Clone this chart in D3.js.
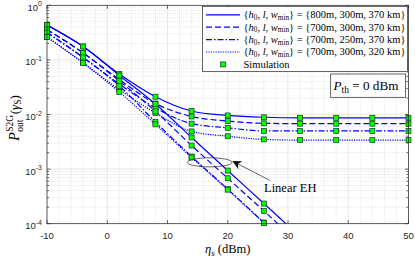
<!DOCTYPE html>
<html lang="en">
<head>
<meta charset="UTF-8">
<title>S2G outage probability</title>
<script src="https://d3js.org/d3.v7.min.js"></script>
<style>
  body { margin: 0; background: #fff; }
  svg { display: block; }
</style>
</head>
<body>
<div id="chart"></div>
<script>
// transmit SNR points (dBm), shared by curves and simulation markers
const etaS = [-10, -4, 2, 8, 14, 20, 26, 32, 38, 44, 50];

// nonlinear EH, one array per {h0, l, wmin} setting
const nl1 = [0.436, 0.176, 0.0552, 0.0212, 0.0116, 0.0096, 0.0089, 0.0087, 0.0087, 0.0087, 0.0087];
const nl2 = [0.360, 0.134, 0.0438, 0.0159, 0.0092, 0.0076, 0.0069, 0.0068, 0.0068, 0.0068, 0.0068];
const nl3 = [0.318, 0.111, 0.0362, 0.0132, 0.0068, 0.0057, 0.0050, 0.0050, 0.0050, 0.0050, 0.0050];
const nl4 = [0.263, 0.088, 0.0287, 0.0107, 0.0049, 0.0040, 0.0035, 0.0034, 0.0034, 0.0034, 0.0034];

// linear EH, goes below 1e-4 after ~30 dBm
const etaLin = [-10, -4, 2, 8, 14, 20, 26, 32];
const lin1 = [0.436, 0.176, 0.0518, 0.0156, 0.0038, 0.00094, 0.000234, 0.000058];
const lin2 = [0.360, 0.134, 0.0411, 0.0114, 0.0027, 0.00068, 0.000171, 0.0000425];
const lin3 = [0.318, 0.111, 0.0333, 0.0073, 0.0017, 0.00043, 0.000105, 0.000026];
const lin4 = [0.263, 0.088, 0.0258, 0.0066, 0.00163, 0.00042, 0.000103, 0.0000256];

const legendValues = ["{800m, 300m, 370 km}", "{700m, 300m, 370 km}", "{700m, 250m, 370 km}", "{700m, 300m, 320 km}"];
const xTicks = [-10, 0, 10, 20, 30, 40, 50];
const yExps = [-4, -3, -2, -1, 0];

const dashes = [null, "6,3", "6,2,1.5,2", "1.2,1.2"];
const blue = "#0000ff";
const axisColor = "#262626";
const serif = "'Liberation Serif', 'DejaVu Serif', serif";
const sans = "'Liberation Sans', Arial, sans-serif";

const W = 415, H = 258;
const pL = 47, pR = 408.5, pT = 5.3, pB = 223.7;

const svg = d3.select("#chart").append("svg")
    .attr("width", W).attr("height", H);

const x = d3.scaleLinear().domain([-10, 50]).range([pL, pR]);
const y = d3.scaleLog().domain([1e-4, 1]).range([pB, pT]);

// grid
const grid = svg.append("g");
const minorX = d3.range(-10, 51, 2).filter(v => v % 10 !== 0);
const minorY = [];
yExps.slice(0, -1).forEach(e => { for (let k = 2; k <= 9; k++) minorY.push(k * Math.pow(10, e)); });

grid.selectAll(".mx").data(minorX).join("line")
    .attr("x1", d => x(d)).attr("x2", d => x(d)).attr("y1", pT).attr("y2", pB)
    .attr("stroke", "#c8c8c8").attr("stroke-width", 0.5).attr("stroke-dasharray", "1,1.2");
grid.selectAll(".my").data(minorY).join("line")
    .attr("x1", pL).attr("x2", pR).attr("y1", d => y(d)).attr("y2", d => y(d))
    .attr("stroke", "#c8c8c8").attr("stroke-width", 0.5).attr("stroke-dasharray", "1,1.2");
grid.selectAll(".gx").data(xTicks).join("line")
    .attr("x1", d => x(d)).attr("x2", d => x(d)).attr("y1", pT).attr("y2", pB)
    .attr("stroke", "#dedede").attr("stroke-width", 0.7);
grid.selectAll(".gy").data(yExps).join("line")
    .attr("x1", pL).attr("x2", pR).attr("y1", d => y(Math.pow(10, d))).attr("y2", d => y(Math.pow(10, d)))
    .attr("stroke", "#dedede").attr("stroke-width", 0.7);

// curves
svg.append("clipPath").attr("id", "clip").append("rect")
    .attr("x", pL).attr("y", pT).attr("width", pR - pL).attr("height", pB - pT);

const line = d3.line()
    .x(d => x(d[0])).y(d => y(d[1]))
    .curve(d3.curveMonotoneX);

const nlSeries = [nl1, nl2, nl3, nl4];
const linSeries = [lin1, lin2, lin3, lin4];

const curves = svg.append("g").attr("clip-path", "url(#clip)");
nlSeries.forEach((s, i) => {
    curves.append("path")
        .datum(etaS.map((e, j) => [e, s[j]]))
        .attr("d", line).attr("fill", "none")
        .attr("stroke", blue).attr("stroke-width", 1.2)
        .attr("stroke-dasharray", dashes[i]);
});
linSeries.forEach((s, i) => {
    curves.append("path")
        .datum(etaLin.map((e, j) => [e, s[j]]))
        .attr("d", line).attr("fill", "none")
        .attr("stroke", blue).attr("stroke-width", 1.2)
        .attr("stroke-dasharray", dashes[i]);
});

// simulation markers
let pts = [];
nlSeries.forEach(s => etaS.forEach((e, j) => pts.push([e, s[j]])));
linSeries.forEach(s => etaLin.forEach((e, j) => pts.push([e, s[j]])));
pts = pts.filter(d => d[1] >= 1e-4);

const ms = 5;
svg.append("g").selectAll("rect").data(pts).join("rect")
    .attr("x", d => x(d[0]) - ms / 2).attr("y", d => y(d[1]) - ms / 2)
    .attr("width", ms).attr("height", ms)
    .attr("fill", "#00ff00").attr("stroke", "#1a3a1a").attr("stroke-width", 0.7);

// axes box + ticks
const ax = svg.append("g").attr("stroke", axisColor).attr("stroke-width", 0.7);
ax.append("rect").attr("x", pL).attr("y", pT).attr("width", pR - pL).attr("height", pB - pT)
    .attr("fill", "none");
xTicks.forEach(t => {
    ax.append("line").attr("x1", x(t)).attr("x2", x(t)).attr("y1", pB).attr("y2", pB - 3.5);
    ax.append("line").attr("x1", x(t)).attr("x2", x(t)).attr("y1", pT).attr("y2", pT + 3.5);
});
yExps.forEach(e => {
    const yy = y(Math.pow(10, e));
    ax.append("line").attr("x1", pL).attr("x2", pL + 3.5).attr("y1", yy).attr("y2", yy);
    ax.append("line").attr("x1", pR).attr("x2", pR - 3.5).attr("y1", yy).attr("y2", yy);
});
minorY.forEach(v => {
    const yy = y(v);
    ax.append("line").attr("x1", pL).attr("x2", pL + 2).attr("y1", yy).attr("y2", yy);
    ax.append("line").attr("x1", pR).attr("x2", pR - 2).attr("y1", yy).attr("y2", yy);
});

// tick labels
svg.append("g").selectAll("text").data(xTicks).join("text")
    .attr("x", d => x(d)).attr("y", 239)
    .attr("text-anchor", "middle").attr("font-family", sans).attr("font-size", 9.5)
    .attr("fill", axisColor).text(d => d);

const yl = svg.append("g").selectAll("text").data(yExps).join("text")
    .attr("x", 42).attr("y", d => y(Math.pow(10, d)) + 5.5)
    .attr("text-anchor", "end").attr("font-family", sans).attr("font-size", 9.5)
    .attr("fill", axisColor);
yl.append("tspan").text("10");
yl.append("tspan").attr("dy", -4.5).attr("font-size", 7).text(d => d);

// x label
const xl = svg.append("text").attr("x", (pL + pR) / 2).attr("y", 253)
    .attr("text-anchor", "middle").attr("font-family", serif).attr("font-size", 12.5);
xl.append("tspan").attr("font-style", "italic").text("η");
xl.append("tspan").attr("font-style", "italic").attr("font-size", 9).attr("dy", 2.5).text("s");
xl.append("tspan").attr("dy", -2.5).text(" (dBm)");

// y label, built piece by piece in a rotated frame
const yg = svg.append("g");
const p = yg.append("text").attr("x", 0).attr("y", 0)
    .attr("font-family", serif).attr("font-size", 14).attr("font-style", "italic").text("P");
const pw = p.node().getComputedTextLength();
const sup = yg.append("text").attr("x", pw + 0.5).attr("y", -6)
    .attr("font-family", serif).attr("font-size", 9.5).text("S2G");
const sub = yg.append("text").attr("x", pw + 0.5).attr("y", 4.2)
    .attr("font-family", serif).attr("font-size", 9.5).text("out");
const x2 = pw + 1 + Math.max(sup.node().getComputedTextLength(), sub.node().getComputedTextLength());
const tail = yg.append("text").attr("x", x2).attr("y", 0)
    .attr("font-family", serif).attr("font-size", 13);
tail.append("tspan").text("(");
tail.append("tspan").attr("font-style", "italic").text("γ");
tail.append("tspan").attr("font-size", 9.5).attr("dy", 2.5).text("S");
tail.append("tspan").attr("dy", -2.5).text(")");
const totalW = x2 + tail.node().getComputedTextLength();
yg.attr("transform", `translate(18.5,${118 + totalW / 2}) rotate(-90)`);

// legend
const lg = svg.append("g");
lg.append("rect").attr("x", 202.5).attr("y", 6.5).attr("width", 205).attr("height", 65)
    .attr("fill", "#fff").attr("stroke", axisColor).attr("stroke-width", 0.7);
const rowY = i => 14.8 + i * 12.4;
legendValues.forEach((v, i) => {
    const ry = rowY(i);
    lg.append("line").attr("x1", 206).attr("x2", 240).attr("y1", ry).attr("y2", ry)
        .attr("stroke", blue).attr("stroke-width", 1.2).attr("stroke-dasharray", dashes[i]);
    const t = lg.append("text").attr("x", 243.5).attr("y", ry + 3.4)
        .attr("font-family", serif).attr("font-size", 10.5);
    t.append("tspan").text("{");
    t.append("tspan").attr("font-style", "italic").text("h");
    t.append("tspan").attr("font-size", 7.2).attr("dy", 1.6).text("0");
    t.append("tspan").attr("dy", -1.6).text(", ");
    t.append("tspan").attr("font-style", "italic").text("l");
    t.append("tspan").text(", ");
    t.append("tspan").attr("font-style", "italic").text("w");
    t.append("tspan").attr("font-size", 7.2).attr("dy", 1.6).text("min");
    t.append("tspan").attr("dy", -1.6).text("} = " + v);
});
const simY = rowY(4);
lg.append("rect").attr("x", 223 - ms / 2).attr("y", simY - ms / 2).attr("width", ms).attr("height", ms)
    .attr("fill", "#00ff00").attr("stroke", "#1a3a1a").attr("stroke-width", 0.7);
lg.append("text").attr("x", 243.5).attr("y", simY + 3.4)
    .attr("font-family", serif).attr("font-size", 10.5).text("Simulation");

// P_th box
svg.append("rect").attr("x", 330.7).attr("y", 74).attr("width", 75).attr("height", 23.3)
    .attr("fill", "#fff").attr("stroke", axisColor).attr("stroke-width", 0.7);
const pt = svg.append("text").attr("x", 333.5).attr("y", 89.5)
    .attr("font-family", serif).attr("font-size", 13.2);
pt.append("tspan").attr("font-style", "italic").text("P");
pt.append("tspan").attr("font-size", 9.5).attr("dy", 3).text("th");
pt.append("tspan").attr("dy", -3).text(" = 0 dBm");

// "Linear EH" annotation: ellipse + arrow
svg.append("ellipse")
    .attr("cx", x(17)).attr("cy", y(1.33e-3))
    .attr("rx", x(20.7) - x(17)).attr("ry", 4.6)
    .attr("fill", "none").attr("stroke", "#222").attr("stroke-width", 0.7);

svg.append("defs").append("marker")
    .attr("id", "arrow").attr("viewBox", "0 0 10 10").attr("refX", 9).attr("refY", 5)
    .attr("markerWidth", 9).attr("markerHeight", 9).attr("markerUnits", "userSpaceOnUse")
    .attr("orient", "auto")
    .append("path").attr("d", "M0,0 L10,5 L0,10 L3,5 z").attr("fill", "#111");

svg.append("line")
    .attr("x1", x(27.0)).attr("y1", y(6.2e-4))
    .attr("x2", x(20.9)).attr("y2", y(1.38e-3))
    .attr("stroke", "#222").attr("stroke-width", 0.7)
    .attr("marker-end", "url(#arrow)");

svg.append("text").attr("x", 264).attr("y", 191.5)
    .attr("font-family", serif).attr("font-size", 12.5).text("Linear EH");
</script>
</body>
</html>
